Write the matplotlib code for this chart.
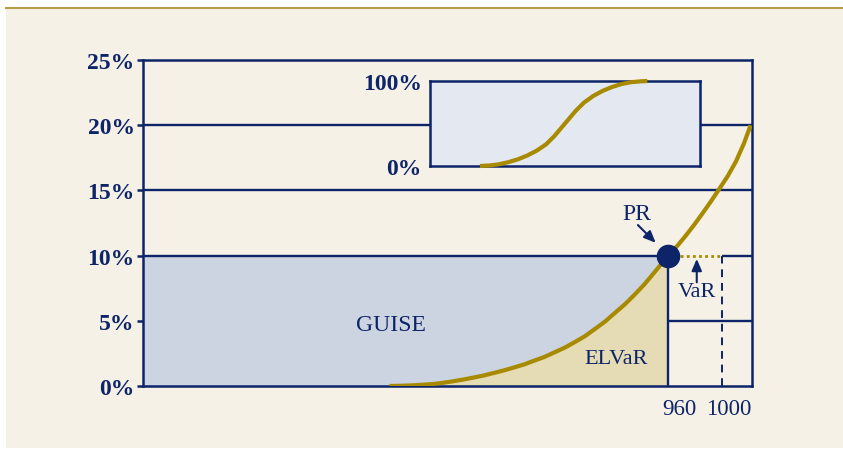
import numpy as np
import matplotlib
matplotlib.use("Agg")
import matplotlib.pyplot as plt
from matplotlib.patches import Rectangle
from matplotlib.lines import Line2D

# *********************************************
# Data
# *********************************************
# loss level vs cumulative probability (%) - the gold curve
loss = [753, 762, 770, 778, 785, 793, 800, 808, 815, 823, 830, 838, 845, 853,
        860, 868, 875, 883, 890, 898, 905, 913, 920, 928, 935, 942, 948, 954,
        960, 967, 973, 979, 985, 991, 997, 1004, 1010, 1016, 1021]
prob = [0.0, 0.02, 0.05, 0.10, 0.15, 0.25, 0.36, 0.50, 0.64, 0.81, 0.99, 1.20,
        1.41, 1.66, 1.93, 2.23, 2.56, 2.94, 3.34, 3.82, 4.34, 4.95, 5.58, 6.30,
        7.02, 7.78, 8.52, 9.27, 10.0, 10.8, 11.55, 12.35, 13.2, 14.08, 15.0,
        16.1, 17.2, 18.6, 20.0]

# the whole distribution, shown in the small inset (0-100 scale)
inset_x = [18.5, 22, 25.5, 29, 32.5, 36, 39.5, 43, 46, 50, 54, 57, 60.5, 64,
           67.5, 71, 74.5, 78, 80.5]
inset_y = [0, 0.6, 2.0, 4.5, 7.8, 12.3, 18, 25.5, 35, 50, 65, 74.5, 82.5, 88.5,
           93, 96.5, 98.6, 99.6, 100]

pr_loss = 960      # loss at the PR point
var_loss = 1000    # VaR
pr_level = 10      # probability (%) at PR
yticks = [0, 5, 10, 15, 20, 25]
xtick_labels = ["960", "1000"]

# colours
navy = "#0d2468"
gold = "#a88a00"
cream = "#f5f1e6"
frame_gold = "#b59d45"
guise_fill = "#ccd3e1"
elvar_fill = "#e5dcb5"
inset_fill = "#e4e8f0"

plt.rcParams["font.family"] = ["Liberation Serif", "DejaVu Serif"]

fig = plt.figure(figsize=(8.43, 4.52), dpi=100)
fig.patch.set_facecolor("white")
fig.add_artist(Rectangle((6 / 843, 3 / 452), 837 / 843, 440 / 452,
                         transform=fig.transFigure, facecolor=cream,
                         edgecolor="none", zorder=-10))
fig.add_artist(Line2D([6 / 843, 1], [443.5 / 452, 443.5 / 452],
                      transform=fig.transFigure, color=frame_gold, lw=1.5))

# *********************************************
# Main plot
# *********************************************
ax = fig.add_axes([143 / 843, 65 / 452, 609 / 843, 326 / 452])
ax.set_facecolor(cream)
xmin, xmax = 570, 1022
ax.set_xlim(xmin, xmax)
ax.set_ylim(0, 25)

for s in ax.spines.values():
    s.set_color(navy)
    s.set_linewidth(1.8)

# gridlines (the 10% one is broken between PR and VaR)
ax.hlines([5, 15, 20], xmin, xmax, color=navy, lw=1.7, zorder=0.5)
ax.hlines(pr_level, xmin, pr_loss, color=navy, lw=1.7, zorder=2)
ax.hlines(pr_level, var_loss, xmax, color=navy, lw=1.7, zorder=2)

x = np.array(loss)
y = np.array(prob)
m = x <= pr_loss
gx = np.concatenate([[xmin], x[m]])
gy = np.concatenate([[0], y[m]])
ax.fill_between(gx, gy, pr_level, color=guise_fill, lw=0, zorder=1)
ax.fill_between(x[m], 0, y[m], color=elvar_fill, lw=0, zorder=1)

ax.vlines(pr_loss, 0, pr_level, color=navy, lw=1.7, zorder=2)
ax.vlines(var_loss, 0, pr_level, color=navy, lw=1.4, linestyles=(0, (4, 3)), zorder=2)
ax.hlines(pr_level, pr_loss, var_loss, color=gold, lw=2, linestyles=(0, (1, 1.2)), zorder=3)

ax.plot(loss, prob, color=gold, lw=3, zorder=4, solid_capstyle="butt",
        solid_joinstyle="round")
ax.plot(pr_loss, pr_level, "o", ms=16, color=navy, zorder=6, clip_on=False)

ax.set_yticks(yticks)
ax.set_yticklabels([f"{v}%" for v in yticks])
ax.tick_params(axis="y", direction="out", length=4.5, width=1.8, color=navy,
               pad=1.5, labelsize=17, labelcolor=navy)
for lbl in ax.get_yticklabels():
    lbl.set_fontweight("bold")
ax.set_xticks([])

for xv, lab, dx in zip([pr_loss, var_loss], xtick_labels, [8, 4.5]):
    ax.annotate(lab, xy=(xv, 0), xycoords=("data", "axes fraction"),
                xytext=(dx, -9), textcoords="offset points",
                ha="center", va="top", fontsize=16.5, color=navy)

ax.text(753.7, 4.75, "GUISE", ha="center", va="center", fontsize=17, color=navy, zorder=5)
ax.text(921, 2.1, "ELVaR", ha="center", va="center", fontsize=16, color=navy, zorder=5)

arrow = dict(arrowstyle="-|>,head_length=0.7,head_width=0.3", color=navy, lw=1.5,
             shrinkA=0, shrinkB=13)
ax.annotate("", xy=(pr_loss, pr_level), xytext=(-22, 22), textcoords="offset points",
            arrowprops=arrow, zorder=6)
ax.annotate("PR", xy=(pr_loss, pr_level), xytext=(-23, 30), textcoords="offset points",
            ha="center", va="center", fontsize=17, color=navy)
ax.annotate("", xy=(981, 9.75), xytext=(981, 7.95),
            arrowprops=dict(arrow, shrinkB=0), zorder=6)
ax.text(981, 7.25, "VaR", ha="center", va="center", fontsize=16, color=navy, zorder=5)

# *********************************************
# Inset: full distribution
# *********************************************
ax_in = fig.add_axes([430 / 843, 285 / 452, 270 / 843, 85 / 452])
ax_in.set_facecolor(inset_fill)
ax_in.set_xlim(0, 100)
ax_in.set_ylim(0, 100)
for s in ax_in.spines.values():
    s.set_color(navy)
    s.set_linewidth(1.8)
ax_in.plot(inset_x, inset_y, color=gold, lw=3, zorder=5, clip_on=False,
           solid_joinstyle="round", solid_capstyle="butt")
ax_in.set_xticks([])
ax_in.set_yticks([0, 100])
ax_in.set_yticklabels(["0%", "100%"])
ax_in.tick_params(axis="y", length=0, pad=6, labelsize=17, labelcolor=navy)
for lbl in ax_in.get_yticklabels():
    lbl.set_fontweight("bold")

plt.savefig("out.png", dpi=100)
